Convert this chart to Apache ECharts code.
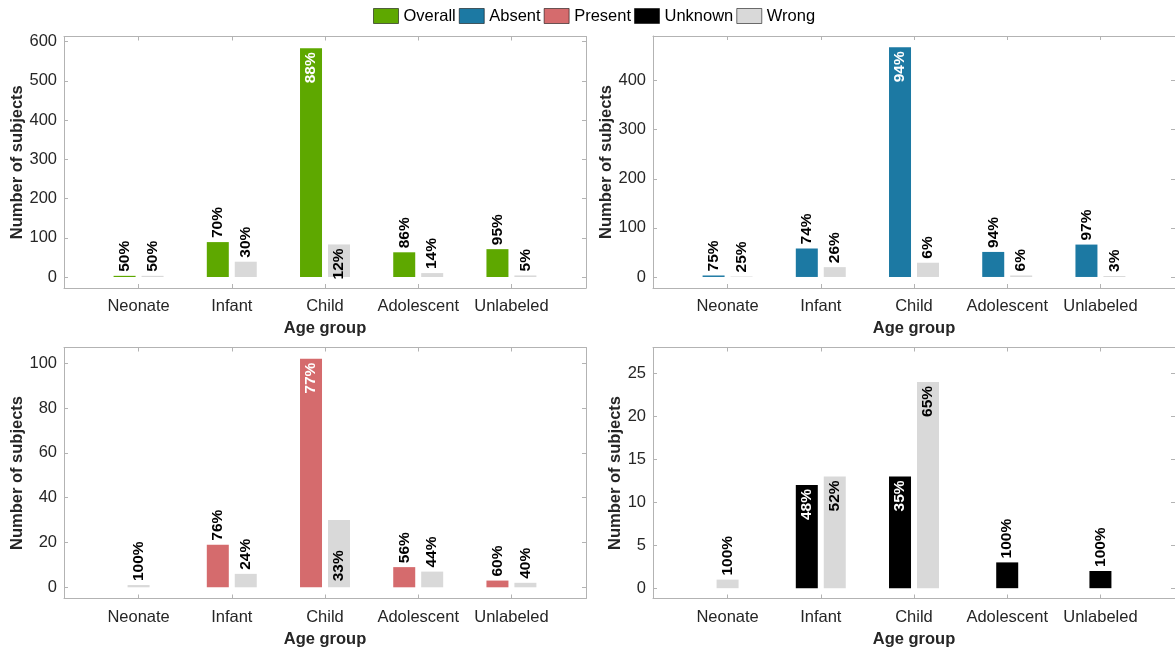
<!DOCTYPE html>
<html><head><meta charset="utf-8">
<script src="https://cdn.jsdelivr.net/npm/echarts@6/dist/echarts.min.js"></script>
<style>html,body{margin:0;padding:0;background:#fff}#c{width:1175px;height:652px}</style>
</head><body><div id="c"></div>
<script>
// ---------- data ----------
const categories = ['Neonate', 'Infant', 'Child', 'Adolescent', 'Unlabeled'];
const seriesNames = ['Overall', 'Absent', 'Present', 'Unknown'];
const wrongName = 'Wrong';

const overallCorrect = [3, 89, 583, 63, 71];
const overallWrong   = [3, 39, 83, 10, 4];
const absentCorrect  = [3, 58, 468, 51, 66];
const absentWrong    = [1, 20, 29, 3, 2];
const presentCorrect = [0, 19, 102, 9, 3];
const presentWrong   = [1, 6, 30, 7, 2];
const unknownCorrect = [0, 12, 13, 3, 2];
const unknownWrong   = [1, 13, 24, 0, 0];

const overallCorrectPct = ['50%', '70%', '88%', '86%', '95%'];
const overallWrongPct   = ['50%', '30%', '12%', '14%', '5%'];
const absentCorrectPct  = ['75%', '74%', '94%', '94%', '97%'];
const absentWrongPct    = ['25%', '26%', '6%', '6%', '3%'];
const presentCorrectPct = ['', '76%', '77%', '56%', '60%'];
const presentWrongPct   = ['100%', '24%', '33%', '44%', '40%'];
const unknownCorrectPct = ['', '48%', '35%', '100%', '100%'];
const unknownWrongPct   = ['100%', '52%', '65%', '', ''];

const yTicksOverall = [0, 100, 200, 300, 400, 500, 600];
const yTicksAbsent  = [0, 100, 200, 300, 400];
const yTicksPresent = [0, 20, 40, 60, 80, 100];
const yTicksUnknown = [0, 5, 10, 15, 20, 25];

// ---------- styling / layout ----------
const FONT = '"Liberation Sans", Arial, Helvetica, sans-serif';
const colors = { Overall: '#5ea800', Absent: '#1c79a3', Present: '#d56b6d', Unknown: '#000000', Wrong: '#d9d9d9' };
const axisColor = '#b3b3b3';
const textColor = '#262626';

const panels = [
  { name: 'Overall', c: overallCorrect, w: overallWrong, cp: overallCorrectPct, wp: overallWrongPct, ticks: yTicksOverall,
    range: [-28, 613], grid: { left: 64, top: 36.5, width: 522, height: 251.5 }, nameGap: 34,
    cPlace: ['out', 'out', 'in', 'out', 'out'], wPlace: ['out', 'out', 'in', 'out', 'out'] },
  { name: 'Absent', c: absentCorrect, w: absentWrong, cp: absentCorrectPct, wp: absentWrongPct, ticks: yTicksAbsent,
    range: [-22.5, 491], grid: { left: 653, top: 36, width: 524, height: 252 }, nameGap: 34.5,
    cPlace: ['out', 'out', 'in', 'out', 'out'], wPlace: ['out', 'out', 'out', 'out', 'out'] },
  { name: 'Present', c: presentCorrect, w: presentWrong, cp: presentCorrectPct, wp: presentWrongPct, ticks: yTicksPresent,
    range: [-5, 107], grid: { left: 64, top: 347.5, width: 522, height: 251 }, nameGap: 34.5,
    cPlace: ['out', 'out', 'in', 'out', 'out'], wPlace: ['out', 'out', 'low', 'out', 'out'] },
  { name: 'Unknown', c: unknownCorrect, w: unknownWrong, cp: unknownCorrectPct, wp: unknownWrongPct, ticks: yTicksUnknown,
    range: [-1.2, 28], grid: { left: 653, top: 347.5, width: 524, height: 251 }, nameGap: 24.5,
    cPlace: ['out', 'in', 'in', 'out', 'out'], wPlace: ['out', 'in', 'in', 'out', 'out'] }
];

const catPos = categories.map((_, i) => i + 1);
const OFFSET = 0.15;

function labelFor(place, text, insideColor) {
  const base = { show: true, formatter: text, rotate: 90, verticalAlign: 'middle', fontFamily: FONT,
                 fontWeight: 'bold', fontSize: 15.5 };
  if (place === 'in') return Object.assign(base, { position: 'insideTop', align: 'right', distance: 4, color: insideColor });
  if (place === 'low') return Object.assign(base, { position: 'insideBottom', align: 'left', distance: 6, color: insideColor });
  return Object.assign(base, { position: 'top', align: 'left', distance: 4, color: '#000' });
}

const grids = [], xAxes = [], yAxes = [], series = [];
panels.forEach((p, gi) => {
  grids.push(Object.assign({ show: false, containLabel: false }, p.grid));
  const xBase = {
    type: 'value', gridIndex: gi, min: 0.2, max: 5.8, splitLine: { show: false },
    axisLine: { show: true, onZero: false, lineStyle: { color: axisColor, width: 1 } },
    axisTick: { show: true, inside: true, length: 4, customValues: catPos, lineStyle: { color: axisColor } }
  };
  xAxes.push(Object.assign({}, xBase, {
    position: 'bottom',
    axisLabel: { show: true, customValues: catPos, formatter: v => categories[Math.round(v) - 1] || '',
                 fontFamily: FONT, fontSize: 16.5, color: textColor, margin: 10 },
    name: 'Age group', nameLocation: 'middle', nameGap: 32,
    nameTextStyle: { fontFamily: FONT, fontSize: 16.5, fontWeight: 'bold', color: textColor }
  }));
  xAxes.push(Object.assign({}, xBase, { position: 'top', axisLabel: { show: false } }));
  const yBase = {
    type: 'value', gridIndex: gi, min: p.range[0], max: p.range[1], splitLine: { show: false },
    axisLine: { show: true, onZero: false, lineStyle: { color: axisColor, width: 1 } },
    axisTick: { show: true, inside: true, length: 4, customValues: p.ticks, lineStyle: { color: axisColor } }
  };
  yAxes.push(Object.assign({}, yBase, {
    position: 'left',
    axisLabel: { show: true, customValues: p.ticks, fontFamily: FONT, fontSize: 16.5, color: textColor, margin: 7 },
    name: 'Number of subjects', nameLocation: 'middle', nameGap: p.nameGap,
    nameTextStyle: { fontFamily: FONT, fontSize: 16.5, fontWeight: 'bold', color: textColor }
  }));
  yAxes.push(Object.assign({}, yBase, { position: 'right', axisLabel: { show: false } }));

  const cData = [], wData = [];
  categories.forEach((_, i) => {
    const both = p.c[i] > 0 && p.w[i] > 0;
    const x = catPos[i];
    if (p.c[i] > 0) cData.push({ value: [both ? x - OFFSET : x, p.c[i]], label: labelFor(p.cPlace[i], p.cp[i], '#fff') });
    if (p.w[i] > 0) wData.push({ value: [both ? x + OFFSET : x, p.w[i]], label: labelFor(p.wPlace[i], p.wp[i], '#000') });
  });
  const common = { type: 'bar', xAxisIndex: gi * 2, yAxisIndex: gi * 2, barWidth: 22, barGap: '-100%', animation: false };
  series.push(Object.assign({}, common, { name: p.name, data: cData, itemStyle: { color: colors[p.name] } }));
  series.push(Object.assign({}, common, { name: wrongName, data: wData, itemStyle: { color: colors.Wrong } }));
});

const chart = echarts.init(document.getElementById('c'), null, { renderer: 'canvas' });
chart.setOption({
  backgroundColor: '#fff',
  animation: false,
  textStyle: { fontFamily: FONT },
  legend: {
    data: seriesNames.concat([wrongName]),
    left: 368, top: 2.5, icon: 'rect', itemWidth: 25, itemHeight: 15, itemGap: 3,
    itemStyle: { borderColor: 'rgba(0,0,0,0.55)', borderWidth: 1 },
    textStyle: { fontFamily: FONT, fontSize: 16.5, color: '#000' },
    selectedMode: false
  },
  grid: grids, xAxis: xAxes, yAxis: yAxes, series: series
});
</script>
</body></html>
